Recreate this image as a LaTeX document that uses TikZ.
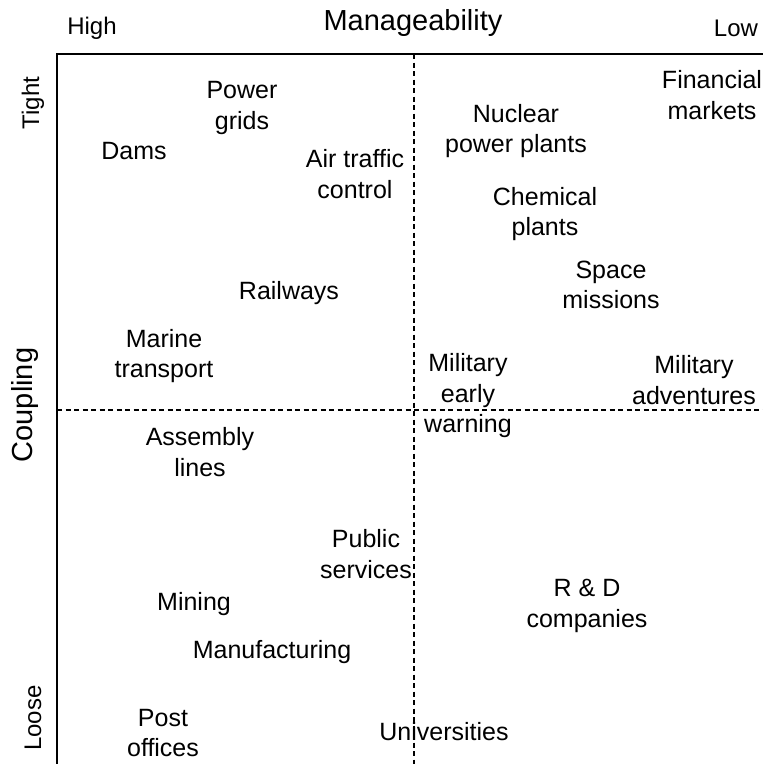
\documentclass[tikz,border=0pt]{standalone}
\usepackage{fontspec}
\setmainfont{Liberation Sans}
\usetikzlibrary{calc}
\tikzstyle{item}=[align=center,inner sep=0pt,font=\fontsize{25}{30.5}\selectfont]
\tikzstyle{corner label}=[inner sep=0pt,font=\fontsize{24}{30}\selectfont]
\tikzstyle{axislabel}=[inner sep=0pt,font=\fontsize{29}{32}\selectfont]
\tikzstyle{divider}=[line width=1.8pt,dash pattern=on 5pt off 3.5pt]

\begin{document}
\begin{tikzpicture}[x=1pt,y=-1pt]

    \useasboundingbox (0,0) rectangle (763,764);

    % frame of the chart
    \coordinate (corner) at (57,54);
    \coordinate (topright) at (763,54);
    \coordinate (bottomleft) at (57,764);
    \coordinate (midtop) at (414,54);
    \coordinate (midbottom) at (414,764);
    \coordinate (midleft) at (57,410);
    \coordinate (midright) at (763,410);

    \draw[line width=1.8pt] (bottomleft) -- (corner) -- (topright);
    \draw[divider] (midtop) -- (midbottom);
    \draw[divider] (midleft) -- (midright);

    % axis titles
    \node[axislabel] (manage) at (413,23) {Manageability};
    \node[corner label] (high) at (92,28) {High};
    \node[corner label] (low) at (736,28) {Low};
    \node[axislabel, rotate=90] (coupling) at (25,405) {Coupling};
    \node[corner label, rotate=90] (tight) at (33,103) {Tight};
    \node[corner label, rotate=90] (loose) at (33,718) {Loose};

    % systems
    \foreach \pos/\name/\txt in {{(242,108)/grids/Power\\grids},
                                 {(134,151)/dams/Dams},
                                 {(355,174)/airtraffic/Air traffic\\control},
                                 {(516,131)/nuclear/Nuclear\\power plants},
                                 {(712,95)/financial/Financial\\markets},
                                 {(545,214)/chemical/Chemical\\plants},
                                 {(611,285)/space/Space\\missions},
                                 {(289,293)/railways/Railways},
                                 {(164,356)/marine/Marine\\transport},
                                 {(468,396)/warning/Military\\early\\warning},
                                 {(694,380)/adventures/Military\\adventures},
                                 {(200,452)/assembly/Assembly\\lines},
                                 {(366,554)/public/Public\\services},
                                 {(587,606)/rnd/R \& D\\companies},
                                 {(194,604)/mining/Mining},
                                 {(272,652)/manufacturing/Manufacturing},
                                 {(163,733)/post/Post\\offices},
                                 {(444,732)/universities/Universities}}
        \node[item] (\name) at \pos {\txt};

\end{tikzpicture}
\end{document}
